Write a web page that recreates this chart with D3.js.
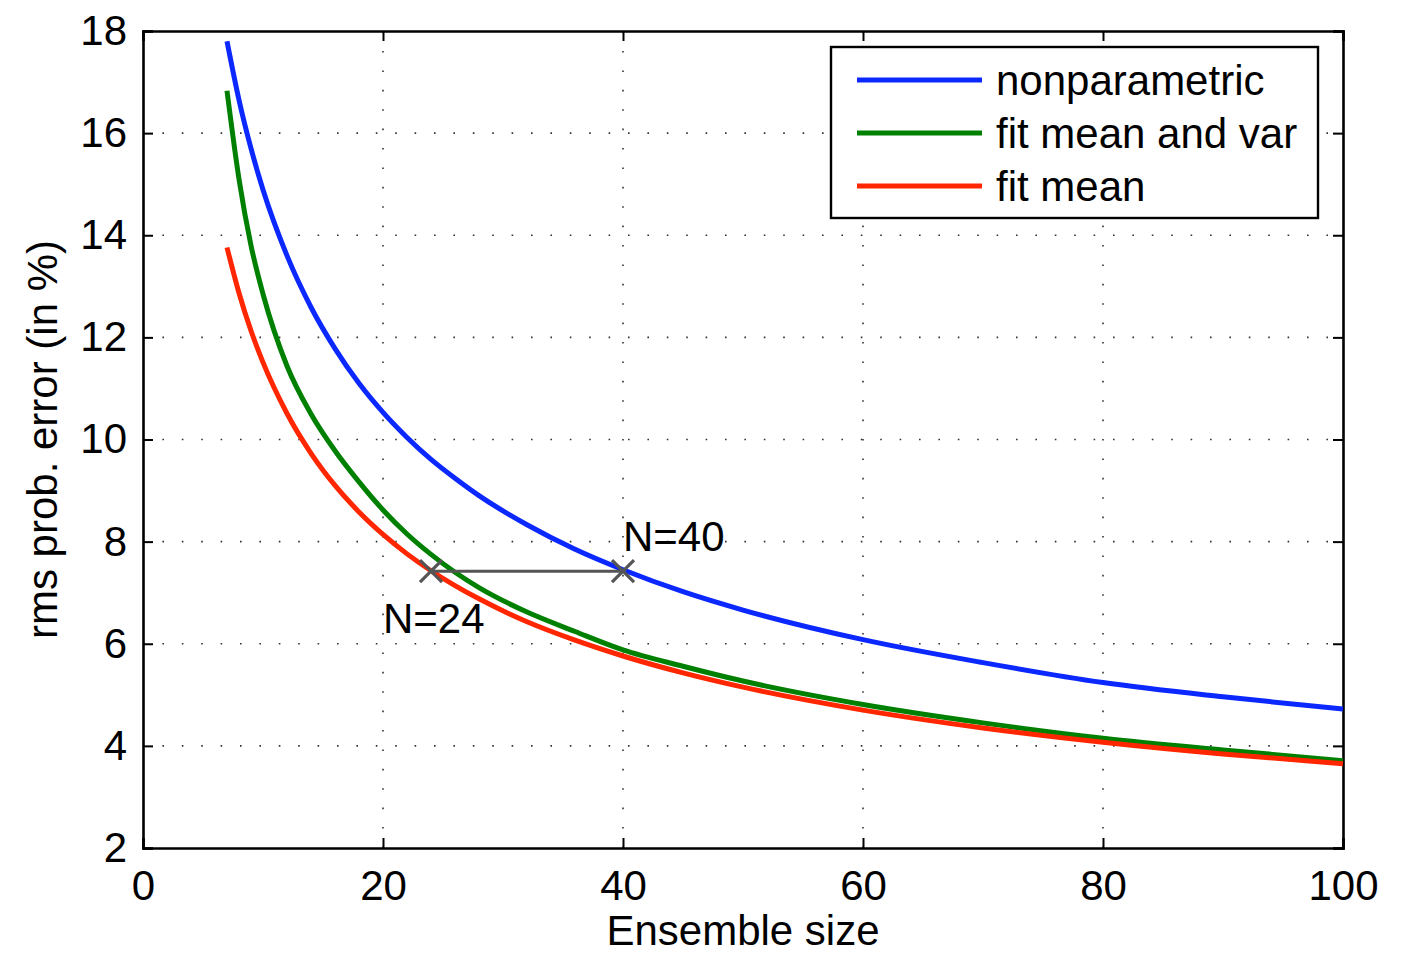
<!DOCTYPE html>
<html>
<head>
<meta charset="utf-8">
<script src="https://cdn.jsdelivr.net/npm/d3@7"></script>
<style>
  html, body { margin: 0; padding: 0; background: #fff; }
  svg text { font-family: "Liberation Sans", Arial, Helvetica, sans-serif; fill: #000; }
</style>
</head>
<body>
<svg id="chart" width="1411" height="955"></svg>
<script>
// ---- data ----
const ensembleSizes = [7, 8, 9, 10, 12, 14, 16, 18, 20, 22, 24, 26, 28, 32, 36, 40, 45, 50, 60, 70, 80, 90, 100];
const nonparametric = [17.80, 16.65, 15.70, 14.89, 13.60, 12.59, 11.78, 11.10, 10.53, 10.04, 9.61, 9.24, 8.90, 8.33, 7.85, 7.45, 7.02, 6.66, 6.08, 5.63, 5.24, 4.96, 4.72];
const fitMeanAndVar = [16.83, 15.10, 13.80, 12.85, 11.44, 10.50, 9.78, 9.17, 8.62, 8.15, 7.75, 7.40, 7.10, 6.62, 6.24, 5.88, 5.56, 5.27, 4.81, 4.45, 4.15, 3.92, 3.71];
const fitMean = [13.76, 12.87, 12.13, 11.51, 10.51, 9.73, 9.10, 8.58, 8.14, 7.76, 7.43, 7.14, 6.88, 6.43, 6.07, 5.76, 5.43, 5.15, 4.70, 4.35, 4.07, 3.84, 3.65];
const seriesNames = ["nonparametric", "fit mean and var", "fit mean"];
const seriesColors = ["#0a28ff", "#008000", "#ff2600"];
const xTicks = [0, 20, 40, 60, 80, 100];
const yTicks = [2, 4, 6, 8, 10, 12, 14, 16, 18];
const annotationN = [24, 40];
const annotationLevel = 7.42;
const annotationLabels = ["N=24", "N=40"];
const xLabel = "Ensemble size";
const yLabel = "rms prob. error (in %)";

// ---- layout ----
const svg = d3.select("#chart");
const margin = { left: 143, right: 68, top: 31, bottom: 107 };
const W = 1411, H = 955;
const x = d3.scaleLinear().domain([0, 100]).range([margin.left, W - margin.right]);
const y = d3.scaleLinear().domain([2, 18]).range([H - margin.bottom, margin.top]);
const fs = 42;

// grid (dotted)
const grid = svg.append("g");
grid.selectAll("line.gx").data(xTicks.filter(d => d > 0 && d < 100)).join("line")
  .attr("x1", d => x(d)).attr("x2", d => x(d))
  .attr("y1", y(2)).attr("y2", y(18))
  .attr("stroke", "#333").attr("stroke-width", 1.6).attr("stroke-dasharray", "1.6,17.8");
grid.selectAll("line.gy").data(yTicks.filter(d => d > 2 && d < 18)).join("line")
  .attr("x1", x(0)).attr("x2", x(100))
  .attr("y1", d => y(d)).attr("y2", d => y(d))
  .attr("stroke", "#333").attr("stroke-width", 1.6).attr("stroke-dasharray", "1.6,17.8");

// axes with inward ticks
const tickLen = 10;
const xAxisB = d3.axisBottom(x).tickValues(xTicks).tickSize(-tickLen).tickPadding(22).tickFormat(d3.format("d"));
const yAxisL = d3.axisLeft(y).tickValues(yTicks).tickSize(-tickLen).tickPadding(16).tickFormat(d3.format("d"));
const xAxisT = d3.axisTop(x).tickValues(xTicks).tickSize(-tickLen).tickFormat("");
const yAxisR = d3.axisRight(y).tickValues(yTicks).tickSize(-tickLen).tickFormat("");

function styleAxis(g) {
  g.select(".domain").attr("stroke", "#000").attr("stroke-width", 2.6);
  g.selectAll(".tick line").attr("stroke", "#000").attr("stroke-width", 2);
  g.selectAll(".tick text").style("font-size", fs + "px").attr("fill", "#000")
    .style("font-family", "'Liberation Sans', Arial, Helvetica, sans-serif");
}
svg.append("g").attr("transform", `translate(0,${y(2)})`).call(xAxisB).call(styleAxis);
svg.append("g").attr("transform", `translate(${x(0)},0)`).call(yAxisL).call(styleAxis);
svg.append("g").attr("transform", `translate(0,${y(18)})`).call(xAxisT).call(styleAxis);
svg.append("g").attr("transform", `translate(${x(100)},0)`).call(yAxisR).call(styleAxis);

// axis labels
svg.append("text").attr("x", (x(0) + x(100)) / 2).attr("y", 945)
  .attr("text-anchor", "middle").style("font-size", fs + "px").text(xLabel);
svg.append("text").attr("transform", `translate(57,${(y(2) + y(18)) / 2}) rotate(-90)`)
  .attr("text-anchor", "middle").style("font-size", fs + "px").text(yLabel);

// series
const seriesData = [nonparametric, fitMeanAndVar, fitMean];
const line = d3.line().x(d => x(d[0])).y(d => y(d[1])).curve(d3.curveMonotoneX);
const plot = svg.append("g");
[1, 0, 2].forEach(i => {
  plot.append("path")
    .datum(ensembleSizes.map((n, k) => [n, seriesData[i][k]]))
    .attr("fill", "none").attr("stroke", seriesColors[i])
    .attr("stroke-width", 5).attr("stroke-linejoin", "round")
    .attr("d", line);
});

// annotation: horizontal connector with x markers
const ann = svg.append("g");
ann.append("line")
  .attr("x1", x(annotationN[0])).attr("x2", x(annotationN[1]))
  .attr("y1", y(annotationLevel)).attr("y2", y(annotationLevel))
  .attr("stroke", "#555").attr("stroke-width", 3.2);
const ms = 11;
annotationN.forEach(n => {
  const cx = x(n), cy = y(annotationLevel);
  ann.append("path")
    .attr("d", `M${cx - ms},${cy - ms}L${cx + ms},${cy + ms}M${cx - ms},${cy + ms}L${cx + ms},${cy - ms}`)
    .attr("stroke", "#555").attr("stroke-width", 3.2).attr("fill", "none");
});
ann.append("text").attr("x", x(annotationN[0]) - 48).attr("y", y(annotationLevel) + 62)
  .style("font-size", fs + "px").text(annotationLabels[0]);
ann.append("text").attr("x", x(annotationN[1])).attr("y", y(annotationLevel) - 20)
  .style("font-size", fs + "px").text(annotationLabels[1]);

// legend
const lg = svg.append("g");
lg.append("rect").attr("x", 831).attr("y", 47).attr("width", 487).attr("height", 171)
  .attr("fill", "#fff").attr("stroke", "#000").attr("stroke-width", 2.4);
seriesNames.forEach((name, i) => {
  const ly = 80 + i * 53;
  lg.append("line").attr("x1", 857).attr("x2", 982).attr("y1", ly).attr("y2", ly)
    .attr("stroke", seriesColors[i]).attr("stroke-width", 5);
  lg.append("text").attr("x", 996).attr("y", ly + 15).style("font-size", fs + "px").text(name);
});
</script>
</body>
</html>
